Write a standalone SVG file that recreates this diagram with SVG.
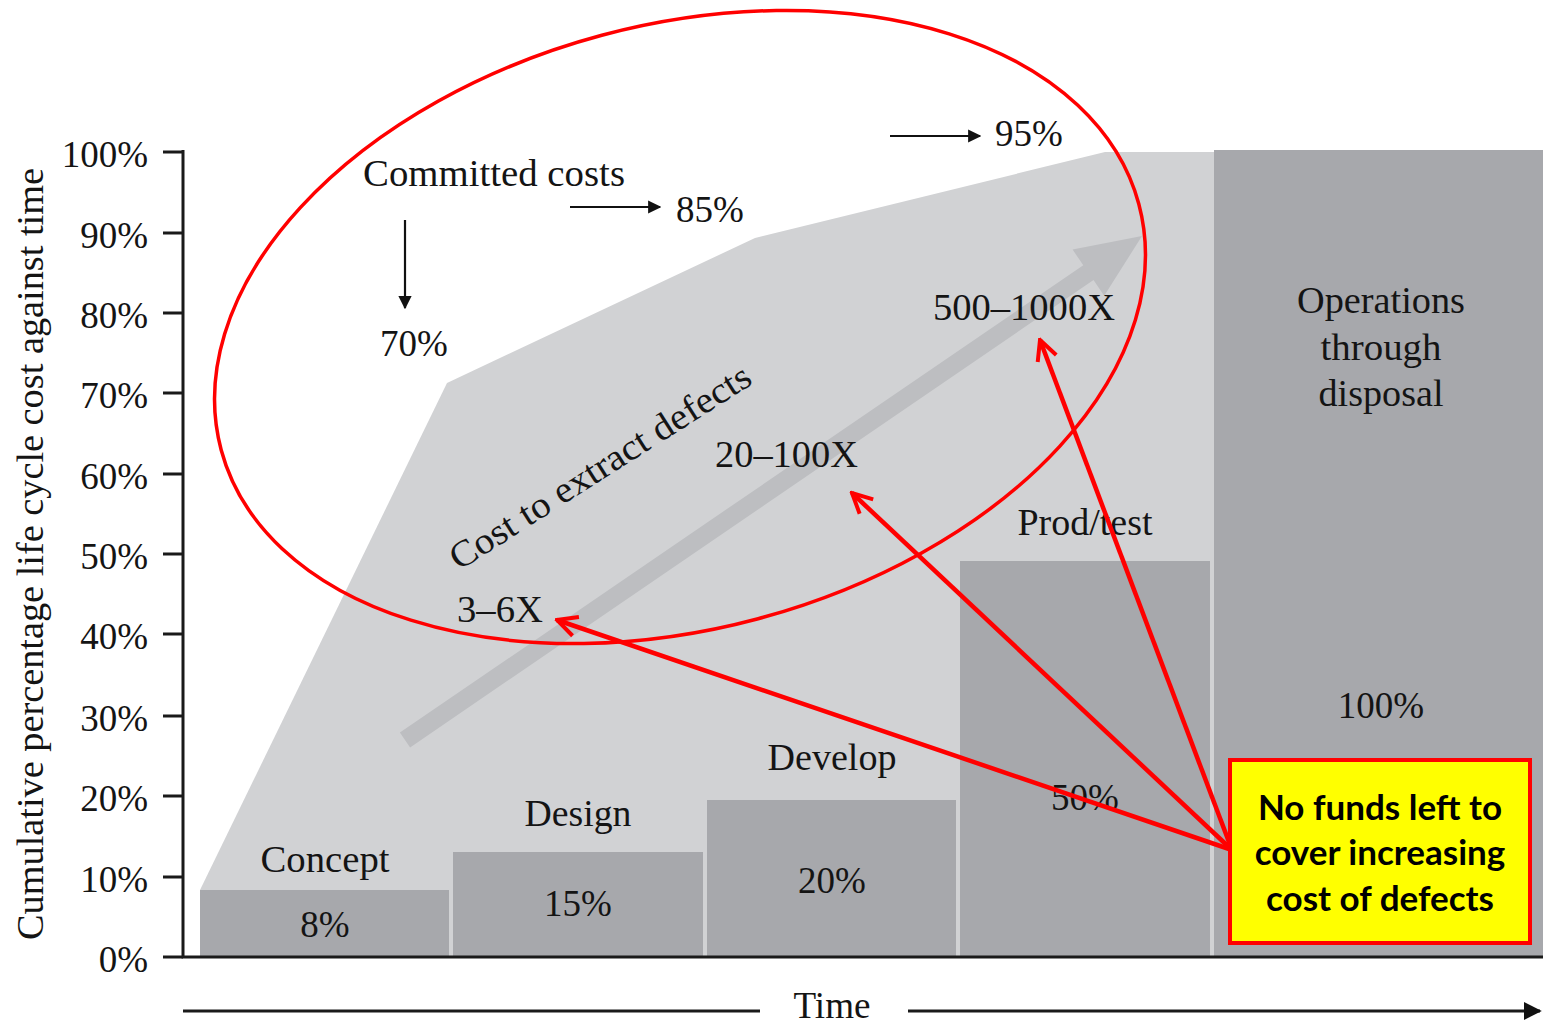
<svg xmlns="http://www.w3.org/2000/svg" width="1543" height="1029" viewBox="0 0 1543 1029">
<style>
.t{font-family:"Liberation Serif","Times New Roman",serif;font-size:37px;fill:#141414}
.m{text-anchor:middle}
.e{text-anchor:end}
.ax{stroke:#1a1a1a;stroke-width:3;fill:none}
.bar{fill:#a7a8ac}
.red{stroke:#ff0000;stroke-width:4.5;fill:none}
.blk{stroke:#111;stroke-width:2.2;fill:none}
.box{font-family:Lato,"Open Sans",sans-serif;font-weight:bold;font-size:35px;fill:#000;text-anchor:middle}
</style>
<defs>
<marker id="ra" viewBox="0 0 10 10" markerWidth="5.5" markerHeight="5.5" refX="9" refY="5" orient="auto" markerUnits="strokeWidth">
<path d="M1,1 L9,5 L1,9" fill="none" stroke="#ff0000" stroke-width="1.6"/>
</marker>
<marker id="ba" viewBox="0 0 10 10" markerWidth="6" markerHeight="6" refX="9" refY="5" orient="auto" markerUnits="strokeWidth">
<path d="M0,0 L10,5 L0,10 Z" fill="#111"/>
</marker>
</defs>
<rect width="1543" height="1029" fill="#fff"/>
<g id="committed-area">
<polygon points="200,890 447,383 755,238 1105,152 1543,152 1543,957 200,957" fill="#d1d2d4"/>
</g>
<g id="bars">
<g id="concept"><rect class="bar" x="200" y="890" width="249" height="67"/><text class="t m" x="325" y="872" textLength="129" lengthAdjust="spacingAndGlyphs">Concept</text><text class="t m" x="325" y="937">8%</text></g>
<g id="design"><rect class="bar" x="453" y="852" width="250" height="105"/><text class="t m" x="578" y="826" textLength="107" lengthAdjust="spacingAndGlyphs">Design</text><text class="t m" x="578" y="916">15%</text></g>
<g id="develop"><rect class="bar" x="707" y="800" width="249" height="157"/><text class="t m" x="832" y="770" textLength="129" lengthAdjust="spacingAndGlyphs">Develop</text><text class="t m" x="832" y="893">20%</text></g>
<g id="prodtest"><rect class="bar" x="960" y="561" width="250" height="396"/><text class="t m" x="1085" y="535" textLength="135" lengthAdjust="spacingAndGlyphs">Prod/test</text><text class="t m" x="1085" y="810">50%</text></g>
<g id="operations"><rect class="bar" x="1214" y="150" width="329" height="807"/><text class="t m" x="1381" y="313" textLength="168" lengthAdjust="spacingAndGlyphs">Operations</text><text class="t m" x="1381" y="360" textLength="121" lengthAdjust="spacingAndGlyphs">through</text><text class="t m" x="1381" y="406" textLength="125" lengthAdjust="spacingAndGlyphs">disposal</text><text class="t m" x="1381" y="718">100%</text></g>
</g>
<g id="defect-arrow">
<polygon points="399.9,732.6 410.1,747.4 1093.5,280.1 1104.2,295.8 1142,236 1072.6,249.6 1083.3,265.3" fill="#bdbec1"/>
<text class="t" transform="translate(459,571) rotate(-32.5)" textLength="350" lengthAdjust="spacingAndGlyphs">Cost to extract defects</text>
<text class="t" x="457" y="622" textLength="86" lengthAdjust="spacingAndGlyphs">3–6X</text>
<text class="t" x="715" y="467" textLength="143" lengthAdjust="spacingAndGlyphs">20–100X</text>
<text class="t" x="933" y="320" textLength="182" lengthAdjust="spacingAndGlyphs">500–1000X</text>
</g>
<g id="committed-labels">
<text class="t" x="363" y="186" textLength="262" lengthAdjust="spacingAndGlyphs">Committed costs</text>
<line class="blk" x1="405" y1="220" x2="405" y2="308" marker-end="url(#ba)"/>
<text class="t" x="380" y="356">70%</text>
<line class="blk" x1="570" y1="207" x2="660" y2="207" marker-end="url(#ba)"/>
<text class="t" x="676" y="222">85%</text>
<line class="blk" x1="890" y1="136" x2="980" y2="136" marker-end="url(#ba)"/>
<text class="t" x="995" y="146">95%</text>
</g>
<g id="axes">
<path class="ax" d="M183,150 V957 H1543"/>
<path class="ax" d="M163,152 H183 M163,233 H183 M163,313 H183 M163,393 H183 M163,474 H183 M163,554 H183 M163,634 H183 M163,716 H183 M163,796 H183 M163,877 H183 M163,957 H183"/>
<text class="t e" x="148" y="167">100%</text>
<text class="t e" x="148" y="248">90%</text>
<text class="t e" x="148" y="328">80%</text>
<text class="t e" x="148" y="408">70%</text>
<text class="t e" x="148" y="489">60%</text>
<text class="t e" x="148" y="569">50%</text>
<text class="t e" x="148" y="649">40%</text>
<text class="t e" x="148" y="731">30%</text>
<text class="t e" x="148" y="811">20%</text>
<text class="t e" x="148" y="892">10%</text>
<text class="t e" x="148" y="972">0%</text>
<text class="t m" transform="translate(43,554) rotate(-90)" textLength="772" lengthAdjust="spacingAndGlyphs">Cumulative percentage life cycle cost against time</text>
<line class="ax" x1="183" y1="1011" x2="760" y2="1011"/>
<text class="t m" x="832" y="1018" textLength="77" lengthAdjust="spacingAndGlyphs">Time</text>
<line class="ax" x1="908" y1="1011" x2="1540" y2="1011" marker-end="url(#ba)"/>
</g>
<g id="ellipse">
<ellipse cx="680" cy="327" rx="475" ry="302" transform="rotate(-15 680 327)" fill="none" stroke="#ff0000" stroke-width="3.5"/>
</g>
<g id="connectors">
<line class="red" x1="1232" y1="850" x2="557" y2="620" marker-end="url(#ra)"/>
<line class="red" x1="1232" y1="850" x2="852" y2="493" marker-end="url(#ra)"/>
<line class="red" x1="1232" y1="850" x2="1040" y2="340" marker-end="url(#ra)"/>
</g>
<g id="note">
<rect x="1230" y="760" width="300" height="183" fill="#ffff00" stroke="#ff0000" stroke-width="4"/>
<text class="box" x="1380" y="820">No funds left to</text>
<text class="box" x="1380" y="865">cover increasing</text>
<text class="box" x="1380" y="911">cost of defects</text>
</g>
</svg>
